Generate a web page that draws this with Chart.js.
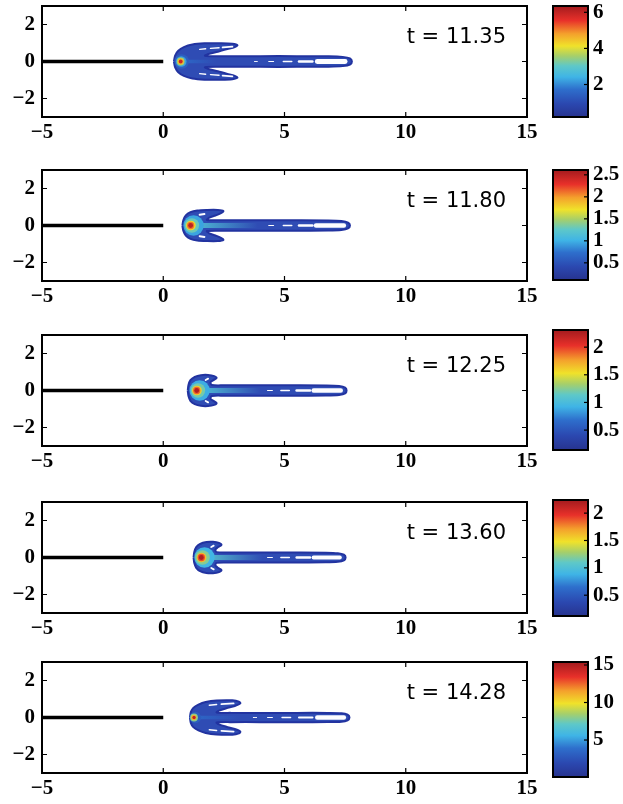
<!DOCTYPE html>
<html><head><meta charset="utf-8">
<script src="https://cdn.jsdelivr.net/npm/chart.js@4.4.1/dist/chart.umd.min.js"></script>
<style>
html,body{margin:0;padding:0;background:#fff;}
body{width:623px;height:804px;position:relative;overflow:hidden;}
canvas{position:absolute;}
</style></head><body>
<script>
// ---------- DATA ----------
const xTicks = [-5, 0, 5, 10, 15];
const yTicks = [-2, 0, 2];
const times = ['11.35', '11.80', '12.25', '13.60', '14.28'];
const needle = [[-5, 0], [0, 0]];

const outline1 = [[0.44,0],[0.49,0.32],[0.62,0.58],[0.85,0.78],[1.2,0.92],[1.7,0.98],[2.4,0.99],[2.85,0.96],[3.06,0.88],[2.95,0.78],[2.65,0.67],[2.25,0.53],[1.9,0.42],[1.72,0.31],[2.4,0.29],[4.0,0.29],[5.5,0.29],[6.8,0.28],[7.4,0.25],[7.7,0.17],[7.78,0],
 [7.7,-0.17],[7.4,-0.25],[6.8,-0.28],[5.5,-0.29],[4.0,-0.29],[2.4,-0.29],[1.72,-0.31],[1.9,-0.42],[2.25,-0.53],[2.65,-0.67],[2.95,-0.78],[3.06,-0.88],[2.85,-0.96],[2.4,-0.99],[1.7,-0.98],[1.2,-0.92],[0.85,-0.78],[0.62,-0.58],[0.49,-0.32],[0.44,0]];
const outline2 = [[0.79,0],[0.83,0.3],[0.93,0.55],[1.12,0.72],[1.4,0.81],[1.8,0.84],[2.25,0.84],[2.48,0.78],[2.4,0.68],[2.15,0.54],[1.9,0.42],[1.8,0.3],[2.4,0.28],[4.0,0.28],[5.5,0.28],[6.8,0.27],[7.35,0.24],[7.62,0.16],[7.7,0],
 [7.62,-0.16],[7.35,-0.24],[6.8,-0.27],[5.5,-0.28],[4.0,-0.28],[2.4,-0.28],[1.8,-0.3],[1.9,-0.42],[2.15,-0.54],[2.4,-0.68],[2.48,-0.78],[2.25,-0.84],[1.8,-0.84],[1.4,-0.81],[1.12,-0.72],[0.93,-0.55],[0.83,-0.3],[0.79,0]];
const outline3 = [[1.01,0],[1.04,0.3],[1.12,0.56],[1.3,0.74],[1.55,0.83],[1.85,0.84],[2.1,0.78],[2.2,0.68],[2.05,0.55],[1.95,0.45],[2.0,0.3],[2.5,0.28],[4.0,0.28],[5.5,0.28],[6.7,0.27],[7.25,0.24],[7.5,0.16],[7.56,0],
 [7.5,-0.16],[7.25,-0.24],[6.7,-0.27],[5.5,-0.28],[4.0,-0.28],[2.5,-0.28],[2.0,-0.3],[1.95,-0.45],[2.05,-0.55],[2.2,-0.68],[2.1,-0.78],[1.85,-0.84],[1.55,-0.83],[1.3,-0.74],[1.12,-0.56],[1.04,-0.3],[1.01,0]];
const outline4 = [[1.25,0],[1.28,0.3],[1.36,0.56],[1.52,0.74],[1.78,0.84],[2.05,0.85],[2.3,0.79],[2.4,0.68],[2.25,0.55],[2.15,0.42],[2.2,0.29],[2.7,0.27],[4.0,0.27],[5.5,0.27],[6.7,0.26],[7.2,0.23],[7.45,0.15],[7.52,0],
 [7.45,-0.15],[7.2,-0.23],[6.7,-0.26],[5.5,-0.27],[4.0,-0.27],[2.7,-0.27],[2.2,-0.29],[2.15,-0.42],[2.25,-0.55],[2.4,-0.68],[2.3,-0.79],[2.05,-0.85],[1.78,-0.84],[1.52,-0.74],[1.36,-0.56],[1.28,-0.3],[1.25,0]];
const outline5 = [[1.10,0],[1.14,0.3],[1.24,0.52],[1.45,0.7],[1.75,0.84],[2.2,0.92],[2.85,0.93],[3.12,0.86],[3.18,0.76],[2.95,0.62],[2.6,0.5],[2.3,0.37],[2.2,0.27],[2.8,0.25],[4.0,0.25],[5.5,0.25],[6.8,0.25],[7.35,0.23],[7.6,0.15],[7.68,0],
 [7.6,-0.15],[7.35,-0.23],[6.8,-0.25],[5.5,-0.25],[4.0,-0.25],[2.8,-0.25],[2.2,-0.27],[2.3,-0.37],[2.6,-0.5],[2.95,-0.62],[3.18,-0.76],[3.12,-0.86],[2.85,-0.93],[2.2,-0.92],[1.75,-0.84],[1.45,-0.7],[1.24,-0.52],[1.14,-0.3],[1.10,0]];

// white gaps between contour lines: [x0, y0, x1, y1, halfThickness]
const gaps1 = [[6.35,0,7.5,0,0.13],[5.6,0,6.15,0,0.07],[4.95,0,5.3,0,0.04],[4.35,0,4.55,0,0.03],[3.75,0,3.88,0,0.025],
 [1.5,0.66,1.75,0.69,0.035],[1.95,0.71,2.3,0.74,0.04],[2.45,0.76,2.85,0.8,0.05],
 [1.5,-0.66,1.75,-0.69,0.035],[1.95,-0.71,2.3,-0.74,0.04],[2.45,-0.76,2.85,-0.8,0.05]];
const gaps2 = [[6.3,0,7.45,0,0.12],[5.6,0,6.15,0,0.07],[4.95,0,5.3,0,0.04],[4.35,0,4.55,0,0.03],
 [1.5,0.58,1.7,0.62,0.05],[1.5,-0.58,1.7,-0.62,0.05]];
const gaps3 = [[6.2,0,7.32,0,0.12],[5.5,0,6.05,0,0.07],[4.85,0,5.2,0,0.04],[4.3,0,4.5,0,0.03],
 [1.75,0.57,1.85,0.64,0.05],[1.75,-0.57,1.85,-0.64,0.05]];
const gaps4 = [[6.2,0,7.28,0,0.11],[5.5,0,6.05,0,0.065],[4.85,0,5.2,0,0.04],[4.3,0,4.5,0,0.03],
 [1.98,0.57,2.08,0.64,0.05],[1.98,-0.57,2.08,-0.64,0.05]];
const gaps5 = [[6.35,0,7.45,0,0.12],[5.6,0,6.15,0,0.06],[4.9,0,5.25,0,0.04],[4.3,0,4.5,0,0.03],[3.7,0,3.85,0,0.025],
 [1.9,0.66,2.2,0.7,0.04],[2.4,0.72,2.9,0.76,0.05],[1.9,-0.66,2.2,-0.7,0.04],[2.4,-0.72,2.9,-0.76,0.05]];

// peak region: [x, y, radius, level]
const peak1 = [[0.76,0,0.3,1.4],[0.74,0,0.22,2.2],[0.72,0,0.16,3.6],[0.72,0,0.12,4.6],[0.72,0,0.08,5.9]];
const peak2 = [[1.25,0,0.42,0.95],[1.18,0,0.3,1.3],[1.14,0,0.2,1.75],[1.13,0,0.15,2.1],[1.13,0,0.1,2.5]];
const peak3 = [[1.5,0,0.42,0.9],[1.43,0,0.3,1.2],[1.39,0,0.2,1.6],[1.38,0,0.15,1.9],[1.38,0,0.1,2.25]];
const peak4 = [[1.7,0,0.42,0.9],[1.62,0,0.3,1.2],[1.58,0,0.2,1.6],[1.57,0,0.15,1.9],[1.57,0,0.1,2.2]];
const peak5 = [[1.32,0,0.24,3],[1.27,0,0.16,8],[1.26,0,0.11,11],[1.27,0,0.07,14.5]];
// bright core along the shaft: [x0, x1, halfThickness, level]
const core1 = [0.75, 2.2, 0.1, 1.6];
const core2 = [1.2, 3.9, 0.13, 1.15];
const core3 = [1.45, 4.0, 0.13, 1.05];
const core4 = [1.62, 4.1, 0.13, 1.05];
const core5 = [1.3, 3.2, 0.1, 3.5];

// colorbars
const cbTicks1 = [2, 4, 6];             const cbRange1 = [0.2, 6.35];
const cbTicks2 = [0.5, 1, 1.5, 2, 2.5]; const cbRange2 = [0.11, 2.61];
const cbTicks3 = [0.5, 1, 1.5, 2];      const cbRange3 = [0.14, 2.31];
const cbTicks4 = [0.5, 1, 1.5, 2];      const cbRange4 = [0.12, 2.24];
const cbTicks5 = [5, 10, 15];           const cbRange5 = [0.07, 15.4];

// ---------- LAYOUT / STYLE ----------
const outlines = [outline1, outline2, outline3, outline4, outline5];
const gapsAll = [gaps1, gaps2, gaps3, gaps4, gaps5];
const peaks = [peak1, peak2, peak3, peak4, peak5];
const cores = [core1, core2, core3, core4, core5];
const cbTicks = [cbTicks1, cbTicks2, cbTicks3, cbTicks4, cbTicks5];
const cbRanges = [cbRange1, cbRange2, cbRange3, cbRange4, cbRange5];
const plotTops = [6, 170, 335, 502, 662];
const cbBoxes = [[6,117],[170,280],[330,450],[500,616],[662,777]];

const stops = [[0,[39,51,143]],[0.12,[43,72,176]],[0.25,[46,111,204]],[0.36,[63,180,230]],[0.46,[94,200,200]],
 [0.55,[166,207,106]],[0.64,[240,226,42]],[0.75,[244,160,44]],[0.87,[232,48,42]],[1,[163,27,30]]];
function cmap(t){
  t = Math.max(0, Math.min(1, t));
  for (let i = 1; i < stops.length; i++) {
    if (t <= stops[i][0]) {
      const [t0,c0] = stops[i-1], [t1,c1] = stops[i];
      const f = (t - t0) / (t1 - t0);
      const c = c0.map((v,k) => Math.round(v + (c1[k]-v)*f));
      return `rgb(${c[0]},${c[1]},${c[2]})`;
    }
  }
  return 'rgb(163,27,30)';
}
const FILL = '#2f4cb4';
const EDGE = '#2233a0';
const fmt = v => (v < 0 ? '\u2212' + Math.abs(v) : String(v));
const serif = {family: "'Liberation Serif','Times New Roman',serif", weight: 'bold', size: 21};

const frame = {
  id: 'frame',
  afterDatasetsDraw(ch, args, opts) {
    const {ctx, chartArea: a, scales} = ch;
    ctx.save();
    ctx.strokeStyle = '#000';
    ctx.lineWidth = 1.2;
    const L = 5;
    if (opts.axes) {
      xTicks.forEach(v => {
        const px = scales.x.getPixelForValue(v);
        ctx.beginPath(); ctx.moveTo(px, a.bottom); ctx.lineTo(px, a.bottom - L);
        ctx.moveTo(px, a.top); ctx.lineTo(px, a.top + L); ctx.stroke();
      });
      yTicks.forEach(v => {
        const py = scales.y.getPixelForValue(v);
        ctx.beginPath(); ctx.moveTo(a.left, py); ctx.lineTo(a.left + L, py);
        ctx.moveTo(a.right, py); ctx.lineTo(a.right - L, py); ctx.stroke();
      });
    }
    if (opts.cb) {
      opts.cb.forEach(v => {
        const py = scales.y.getPixelForValue(v);
        ctx.beginPath(); ctx.moveTo(a.right, py); ctx.lineTo(a.right - 4, py); ctx.stroke();
      });
    }
    ctx.lineWidth = 2;
    ctx.strokeRect(a.left, a.top, a.right - a.left, a.bottom - a.top);
    if (opts.label) {
      ctx.fillStyle = '#000';
      ctx.font = "21px 'DejaVu Sans', sans-serif";
      ctx.textAlign = 'right';
      ctx.textBaseline = 'alphabetic';
      ctx.fillText(opts.label, a.right - 21, a.top + 37);
    }
    ctx.restore();
  }
};

function pxPerY(ch){ const y = ch.scales.y; return Math.abs(y.getPixelForValue(1) - y.getPixelForValue(0)); }

function makePanel(i){
  const c = document.createElement('canvas');
  c.width = 623; c.height = 160;
  c.style.left = '0px'; c.style.top = (plotTops[i] - 6) + 'px';
  c.style.width = '623px'; c.style.height = '160px';
  document.body.appendChild(c);
  const [cmin, cmax] = cbRanges[i];
  const lev = v => cmap((v - cmin) / (cmax - cmin));
  const ds = [];
  ds.push({
    data: outlines[i].map(p => ({x: p[0], y: p[1]})),
    showLine: true, fill: 'shape', backgroundColor: FILL, borderColor: EDGE,
    borderWidth: 2, pointRadius: 0, tension: 0.3
  });
  const co = cores[i];
  ds.push({
    data: [{x: co[0], y: 0}, {x: co[1], y: 0}],
    showLine: true, pointRadius: 0, borderCapStyle: 'round',
    borderWidth: ctx => 2 * co[2] * pxPerY(ctx.chart),
    borderColor: ctx => {
      const ch = ctx.chart; if (!ch.chartArea) return FILL;
      const xs = ch.scales.x;
      const g = ch.ctx.createLinearGradient(xs.getPixelForValue(co[0]), 0, xs.getPixelForValue(co[1]), 0);
      g.addColorStop(0, lev(co[3])); g.addColorStop(1, FILL);
      return g;
    }
  });
  gapsAll[i].forEach(gp => {
    ds.push({
      data: [{x: gp[0], y: gp[1]}, {x: gp[2], y: gp[3]}],
      showLine: true, pointRadius: 0, borderCapStyle: 'round', borderColor: '#fdfdff',
      borderWidth: ctx => 2 * gp[4] * pxPerY(ctx.chart)
    });
  });
  ds.push({
    data: peaks[i].map(p => ({x: p[0], y: p[1], r: p[2], v: p[3]})),
    showLine: false, pointBorderWidth: 0,
    pointRadius: ctx => { const xs = ctx.chart.scales.x, p = ctx.raw; return p ? Math.abs(xs.getPixelForValue(p.x + p.r) - xs.getPixelForValue(p.x)) : 0; },
    pointBackgroundColor: ctx => ctx.raw ? lev(ctx.raw.v) : FILL
  });
  ds.push({
    data: needle.map(p => ({x: p[0], y: p[1]})),
    showLine: true, pointRadius: 0, borderColor: '#000', borderWidth: 3.5
  });
  // later datasets must be painted on top
  ds.forEach((d, k) => { d.order = ds.length - k; });
  new Chart(c, {
    type: 'scatter',
    data: {datasets: ds},
    options: {
      responsive: false, animation: false, devicePixelRatio: 1,
      layout: {padding: {left: 0, right: 96, top: 6, bottom: 0}},
      plugins: {legend: {display: false}, tooltip: {enabled: false}, frame: {label: 't = ' + times[i], axes: true}},
      scales: {
        x: {type: 'linear', min: -5, max: 15,
          afterBuildTicks: s => { s.ticks = xTicks.map(v => ({value: v})); },
          afterFit: s => { s.height = 43; s.paddingLeft = 0; s.paddingRight = 0; },
          grid: {display: false, drawTicks: false}, border: {display: false},
          ticks: {font: serif, color: '#000', padding: 3, maxRotation: 0, autoSkip: false, callback: v => fmt(v)}},
        y: {type: 'linear', min: -3, max: 3,
          afterBuildTicks: s => { s.ticks = yTicks.map(v => ({value: v})); },
          afterFit: s => { s.width = 42; s.paddingTop = 0; s.paddingBottom = 0; },
          grid: {display: false, drawTicks: false}, border: {display: false},
          ticks: {font: serif, color: '#000', padding: 7, autoSkip: false, callback: v => fmt(v)}}
      }
    },
    plugins: [frame]
  });
}

function makeColorbar(i){
  const [t, b] = cbBoxes[i];
  const [mn, mx] = cbRanges[i];
  const pad = 12;
  const c = document.createElement('canvas');
  c.width = 71; c.height = (b - t) + 2 * pad;
  c.style.left = '552px'; c.style.top = (t - pad) + 'px';
  c.style.width = '71px'; c.style.height = c.height + 'px';
  document.body.appendChild(c);
  new Chart(c, {
    type: 'bar',
    data: {labels: ['c'], datasets: [{
      data: [[mn, mx]], borderWidth: 0, borderSkipped: false,
      barPercentage: 1, categoryPercentage: 1,
      backgroundColor: ctx => {
        const ch = ctx.chart, a = ch.chartArea; if (!a) return '#2b48b0';
        const g = ch.ctx.createLinearGradient(0, a.bottom, 0, a.top);
        stops.forEach(s => g.addColorStop(s[0], `rgb(${s[1].join(',')})`));
        return g;
      }
    }]},
    options: {
      responsive: false, animation: false, devicePixelRatio: 1,
      layout: {padding: {left: 1, right: 0, top: pad, bottom: pad}},
      plugins: {legend: {display: false}, tooltip: {enabled: false}, frame: {cb: cbTicks[i]}},
      scales: {
        x: {display: false},
        y: {position: 'right', min: mn, max: mx,
          afterBuildTicks: s => { s.ticks = cbTicks[i].map(v => ({value: v})); },
          afterFit: s => { s.width = 35; s.paddingTop = 0; s.paddingBottom = 0; },
          grid: {display: false, drawTicks: false}, border: {display: false},
          ticks: {font: serif, color: '#000', padding: 5, autoSkip: false, callback: v => String(v)}}
      }
    },
    plugins: [frame]
  });
}

for (let i = 0; i < 5; i++) { makePanel(i); makeColorbar(i); }
</script>
</body></html>
